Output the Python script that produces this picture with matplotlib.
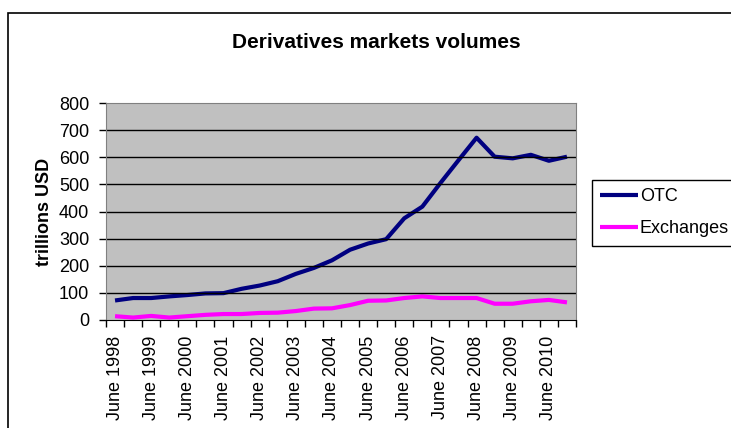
import matplotlib
matplotlib.use('Agg')
import matplotlib.pyplot as plt
from matplotlib.patches import Rectangle

# semi-annual observations, June 1998 .. Dec 2010
periods = ['June 1998', 'Dec 1998', 'June 1999', 'Dec 1999', 'June 2000', 'Dec 2000',
           'June 2001', 'Dec 2001', 'June 2002', 'Dec 2002', 'June 2003', 'Dec 2003',
           'June 2004', 'Dec 2004', 'June 2005', 'Dec 2005', 'June 2006', 'Dec 2006',
           'June 2007', 'Dec 2007', 'June 2008', 'Dec 2008', 'June 2009', 'Dec 2009',
           'June 2010', 'Dec 2010']
otc = [72, 81, 81, 87, 92, 98, 99, 115, 127, 143, 170, 192, 220, 259,
       282, 298, 375, 418, 505, 589, 672, 602, 596, 609, 587, 602]
exchanges = [14, 9, 15, 9, 14, 19, 22, 22, 26, 27, 33, 42, 43, 55,
             71, 72, 81, 87, 81, 81, 81, 60, 60, 69, 74, 65]
yticks = [0, 100, 200, 300, 400, 500, 600, 700, 800]

plt.rcParams['font.family'] = ['Liberation Sans', 'DejaVu Sans']
W, H = 731, 428
fs = 13
fig = plt.figure(figsize=(W / 100, H / 100), dpi=100)

# outer chart frame (cut off at right/bottom as in the reference)
fig.patches.append(Rectangle((8 / W, -0.1), 1.2, 1 - 13 / H + 0.1,
                             transform=fig.transFigure, fill=False,
                             edgecolor='black', linewidth=1.2))

ax = fig.add_axes([106 / W, 1 - 320 / H, 470 / W, 217 / H])
ax.set_facecolor('#C0C0C0')
x = list(range(len(periods)))
ax.plot(x, otc, color='#000080', linewidth=3, label='OTC', solid_capstyle='butt')
ax.plot(x, exchanges, color='#FF00FF', linewidth=3, label='Exchanges', solid_capstyle='butt')

ax.set_xlim(-0.5, len(periods) - 0.5)
ax.set_ylim(0, 800)
ax.set_yticks(yticks)
ax.set_yticklabels([str(v) for v in yticks], fontsize=fs)
for v in yticks[1:-1]:
    ax.axhline(v, color='black', linewidth=1)

ax.set_xticks([i - 0.5 for i in range(len(periods) + 1)])
ax.set_xticklabels([])
ax.set_xticks(x[::2], minor=True)
ax.set_xticklabels(periods[::2], minor=True, rotation=90, fontsize=fs)
ax.tick_params(axis='x', which='minor', length=0, pad=11)
ax.tick_params(axis='both', which='major', direction='out', length=5, width=1, color='black')
ax.tick_params(axis='y', pad=7)

for side in ['top', 'right']:
    ax.spines[side].set_color('#808080')
ax.spines['left'].set_color('#808080')
ax.spines['bottom'].set_color('black')

ax.set_ylabel('trillions USD', fontsize=fs, fontweight='bold', labelpad=4)
fig.text(376 / W, 1 - 43 / H, 'Derivatives markets volumes', ha='center', va='center',
         fontsize=15, fontweight='bold')

leg = fig.legend(loc='upper left', bbox_to_anchor=(592 / W, 1 - 180 / H),
                 fontsize=fs, fancybox=False, edgecolor='black', framealpha=1,
                 handlelength=2.1, handletextpad=0.1, labelspacing=0.85,
                 borderpad=0.45, borderaxespad=0)
leg.get_frame().set_linewidth(1)

fig.savefig('out.png', dpi=100)
